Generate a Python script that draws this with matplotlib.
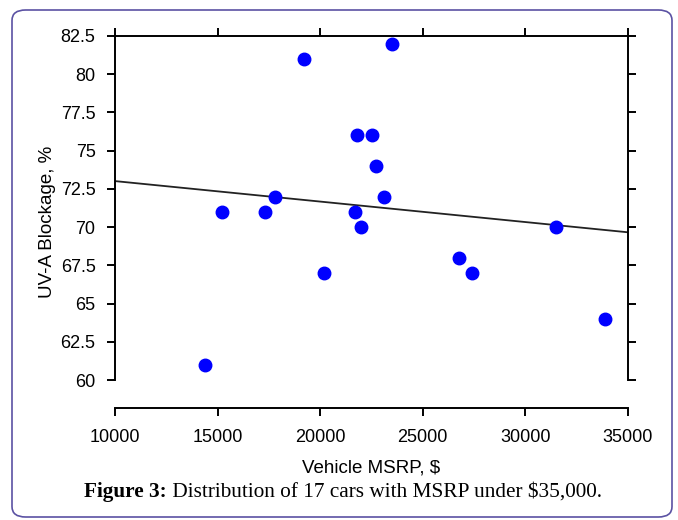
import matplotlib
matplotlib.use("Agg")
import matplotlib.pyplot as plt
import numpy as np
from matplotlib.patches import FancyBboxPatch

# Vehicle MSRP ($) and UV-A blockage (%) for the 17 cars
msrp = [19200, 23500, 21800, 22500, 22700, 23100, 17800, 15200, 17300,
        21700, 22000, 20200, 14400, 26750, 27400, 31500, 33900]
uva = [81, 82, 76, 76, 74, 72, 72, 71, 71,
       71, 70, 67, 61, 68, 67, 70, 64]

xticks = [10000, 15000, 20000, 25000, 30000, 35000]
yticks = [60, 62.5, 65, 67.5, 70, 72.5, 75, 77.5, 80, 82.5]
ytick_labels = ["60", "62.5", "65", "67.5", "70", "72.5", "75", "77.5", "80", "82.5"]

SANS = "Liberation Sans"
SERIF = "Liberation Serif"

fig = plt.figure(figsize=(6.78, 5.2), dpi=100)

# rounded frame around the whole figure
frame = FancyBboxPatch((12 / 678, 3 / 520), 660 / 678, 507 / 520,
                       boxstyle="round,pad=0,rounding_size=0.02",
                       transform=fig.transFigure, fill=False,
                       edgecolor="#5b52a3", linewidth=1.2)
fig.patches.append(frame)

ax = fig.add_axes([115 / 678, 1 - 407.7 / 520, 513 / 678, 371.7 / 520])
ax.set_xlim(10000, 35000)
ax.set_ylim(58.2, 82.5)

# least-squares trend line
k, b = np.polyfit(msrp, uva, 1)
xl = np.array([10000, 35000])
ax.plot(xl, k * xl + b, color="#222222", lw=1.3, zorder=2)

ax.plot(msrp, uva, "o", color="#0000ff", markersize=9, zorder=3)

for s in ax.spines.values():
    s.set_linewidth(1.4)
ax.spines["left"].set_bounds(60, 82.5)
ax.spines["right"].set_bounds(60, 82.5)

ax.set_xticks(xticks)
ax.set_xticklabels([str(t) for t in xticks])
ax.set_yticks(yticks)
ax.set_yticklabels(ytick_labels)
ax.tick_params(axis="both", direction="out", length=6, width=1.4,
               labelsize=13, top=True, right=True)
ax.tick_params(axis="x", pad=9)
ax.tick_params(axis="y", pad=8)
for lab in ax.get_xticklabels() + ax.get_yticklabels():
    lab.set_family(SANS)

ax.set_xlabel("Vehicle MSRP, $", fontsize=13.5, family=SANS, labelpad=10)
ax.set_ylabel("UV-A Blockage, %", fontsize=13.5, family=SANS, labelpad=3)

# caption: bold "Figure 3:" followed by regular text
t1 = fig.text(84 / 678, 1 - 497 / 520, "Figure 3:", fontsize=15.3,
              family=SERIF, fontweight="bold", va="baseline")
ax.annotate(" Distribution of 17 cars with MSRP under $35,000.",
            xy=(1, 0), xycoords=t1, fontsize=15.3, family=SERIF,
            va="bottom", ha="left", annotation_clip=False)

fig.savefig("out.png", dpi=100)
